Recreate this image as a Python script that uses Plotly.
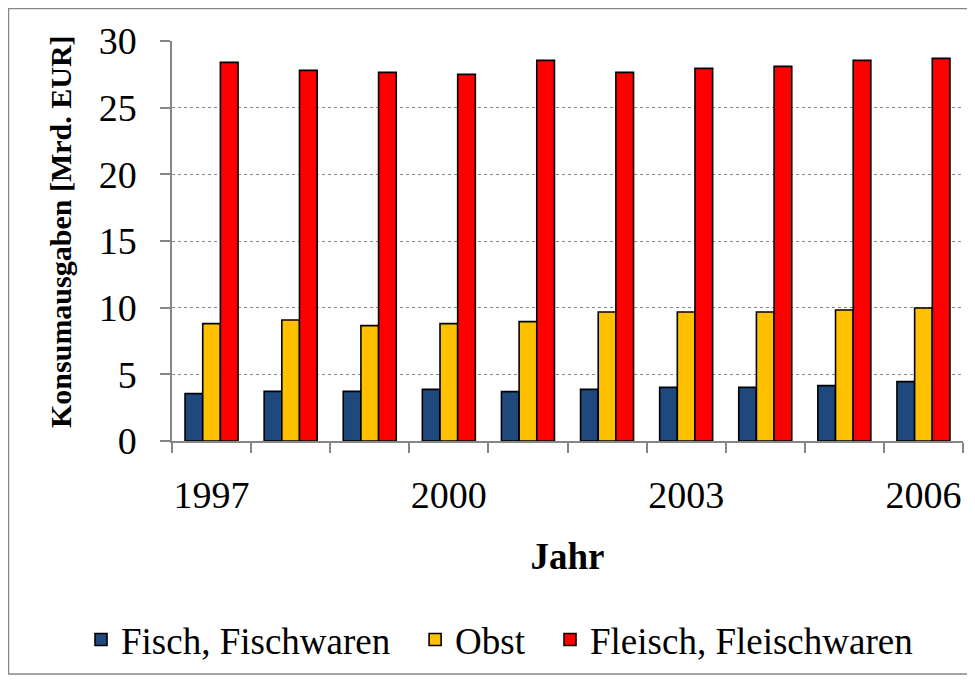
import plotly.graph_objects as go

years = [1997, 1998, 1999, 2000, 2001, 2002, 2003, 2004, 2005, 2006]
fisch = [3.55, 3.72, 3.72, 3.87, 3.7, 3.87, 4.02, 4.02, 4.15, 4.45]
obst = [8.8, 9.08, 8.65, 8.8, 8.95, 9.68, 9.68, 9.68, 9.83, 9.98]
fleisch = [28.4, 27.8, 27.65, 27.5, 28.55, 27.65, 27.95, 28.1, 28.55, 28.7]
tick_years = [1997, 2000, 2003, 2006]
y_ticks = [0, 5, 10, 15, 20, 25, 30]

font_name = "Liberation Serif"
gray = "#868686"

x = list(range(len(years)))
tick_pos = [years.index(y) for y in tick_years]
bounds = [i - 0.5 for i in range(len(years) + 1)]

fig = go.Figure()
series = [
    ("Fisch, Fischwaren", fisch, "#1F497D", "legend"),
    ("Obst", obst, "#FFC000", "legend2"),
    ("Fleisch, Fleischwaren", fleisch, "#FF0000", "legend3"),
]
for name, vals, col, lg in series:
    fig.add_trace(go.Bar(
        x=x, y=vals, name=name, legend=lg,
        marker=dict(color=col, line=dict(color="black", width=1.6)),
    ))

# outer chart frame
fig.add_shape(type="rect", xref="paper", yref="paper",
              x0=-0.2067, x1=1.0063, y0=-0.5825, y1=1.081,
              line=dict(color=gray, width=1.5))

fig.add_annotation(text="<b>Konsumausgaben [Mrd. EUR]</b>", textangle=-90,
                   xref="paper", yref="paper", x=-0.1416, y=0.525,
                   xanchor="center", yanchor="middle",
                   showarrow=False, font=dict(size=30))


def leg(xpos):
    return dict(orientation="h", xref="container", yref="container",
                x=xpos, xanchor="left", y=0.061, yanchor="middle",
                font=dict(family=font_name, size=37),
                bgcolor="rgba(0,0,0,0)", itemwidth=30)


# page body has an 8px margin, so the figure is a bit smaller than the window
fig.update_layout(
    width=967, height=673,
    margin=dict(l=164, r=12, t=33, b=240),
    paper_bgcolor="white", plot_bgcolor="white",
    barmode="group", bargap=0.33, bargroupgap=0,
    font=dict(family=font_name, size=38, color="black"),
    showlegend=True,
    legend=leg(0.0755),
    legend2=leg(0.421),
    legend3=leg(0.5605),
    xaxis=dict(
        range=[-0.5, len(years) - 0.5],
        tickvals=tick_pos, ticktext=[str(y) for y in tick_years],
        ticks="", showgrid=False, automargin=False,
        showline=True, linecolor=gray, linewidth=1.5,
        ticklabelstandoff=20,
        minor=dict(tickvals=bounds, ticks="outside", ticklen=10,
                   tickcolor=gray, tickwidth=1.5, showgrid=False),
        title=dict(text="<b>Jahr</b>", font=dict(size=37), standoff=28),
        tickfont=dict(size=38),
    ),
    yaxis=dict(
        range=[0, 30], tickvals=y_ticks, automargin=False,
        ticks="outside", ticklen=10, tickcolor=gray, tickwidth=1.5,
        showline=True, linecolor=gray, linewidth=1.5,
        showgrid=True, gridcolor=gray, griddash="dot", gridwidth=1.2,
        zeroline=False,
        ticklabelstandoff=16,
        tickfont=dict(size=38),
    ),
)

fig.write_html("out.html")
